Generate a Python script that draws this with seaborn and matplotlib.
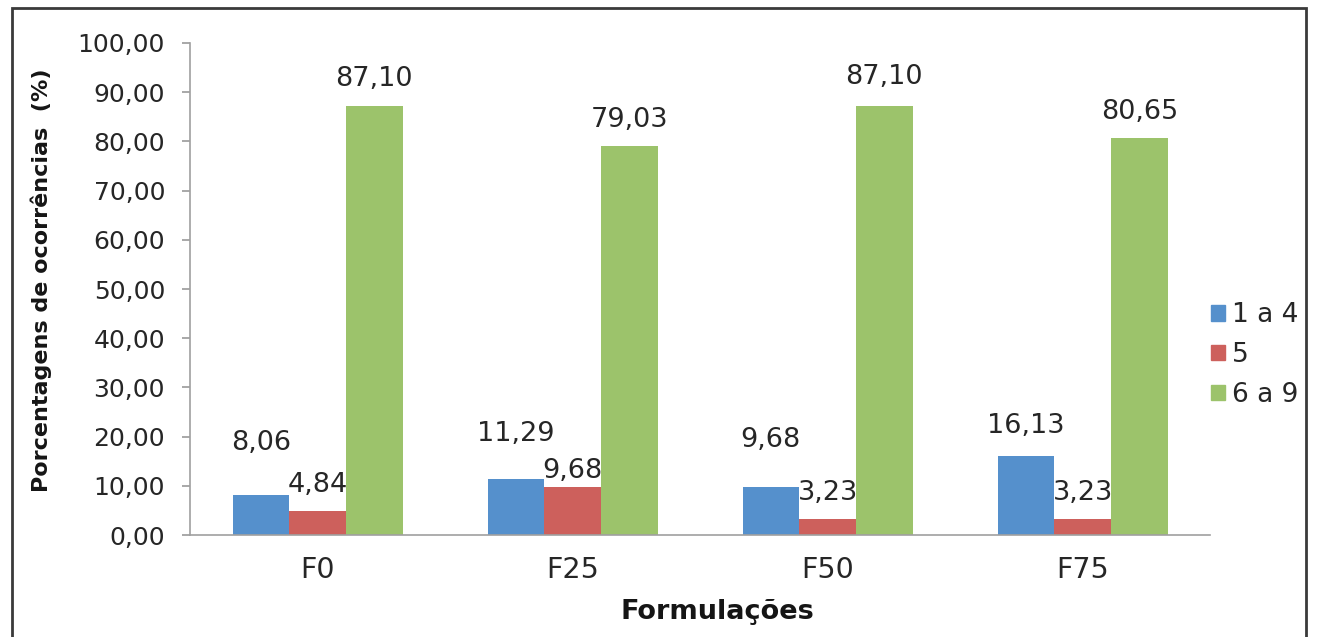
import matplotlib
matplotlib.use("Agg")
import matplotlib.pyplot as plt
from matplotlib.patches import Rectangle
import seaborn as sns
import pandas as pd

formulacoes = ["F0", "F25", "F50", "F75"]
classes = ["1 a 4", "5", "6 a 9"]
val_1a4 = [8.06, 11.29, 9.68, 16.13]
val_5 = [4.84, 9.68, 3.23, 3.23]
val_6a9 = [87.10, 79.03, 87.10, 80.65]
yticks = [0, 10, 20, 30, 40, 50, 60, 70, 80, 90, 100]

cores = ["#5590CC", "#CD605C", "#9CC36B"]
# vertical gap (points) between each bar top and its label, per class and formulation
label_gap = {
    "1 a 4": [38, 33, 34, 21],
    "5": [19, 12, 19, 19],
    "6 a 9": [20, 19, 21, 19],
}

df = pd.DataFrame({
    "Formulação": formulacoes * 3,
    "Classe": [c for c in classes for _ in formulacoes],
    "Valor": val_1a4 + val_5 + val_6a9,
})

sns.set_theme(style="white")
plt.rcParams["font.family"] = ["DejaVu Sans"]

fig = plt.figure(figsize=(13.17, 6.37), dpi=100)
ax = fig.add_axes([0.1443, 0.1601, 0.7745, 0.7724])

sns.barplot(data=df, x="Formulação", y="Valor", hue="Classe", hue_order=classes,
            order=formulacoes, palette=cores, saturation=1, width=0.667,
            linewidth=0, ax=ax, legend=False)

ax.set_ylim(0, 100)
ax.set_xlim(-0.5, 3.5)
ax.set_yticks(yticks)
ax.set_yticklabels([f"{v:.2f}".replace(".", ",") for v in yticks],
                   fontsize=18, color="#262626")
ax.tick_params(axis="y", which="major", left=True, length=6, width=1.2,
               color="#9A9A9A", pad=12)
ax.tick_params(axis="x", bottom=False, labelsize=20.5, labelcolor="#262626", pad=9)

for side in ["top", "right"]:
    ax.spines[side].set_visible(False)
for side in ["left", "bottom"]:
    ax.spines[side].set_color("#A0A0A0")
    ax.spines[side].set_linewidth(1.2)

# value labels above the bars
for cont, classe in zip(ax.containers, classes):
    for bar, gap in zip(cont, label_gap[classe]):
        h = bar.get_height()
        ax.annotate(f"{h:.2f}".replace(".", ","),
                    (bar.get_x() + bar.get_width() / 2, h),
                    xytext=(0, gap), textcoords="offset points",
                    ha="center", va="center", fontsize=19.5, color="#262626")

ax.set_xlabel("")
ax.set_ylabel("")
fig.text(0.545, 1 - 619 / 637, "Formulações", ha="center", va="baseline",
         fontsize=19.5, fontweight="bold", color="#151515")
fig.text(41 / 1317, 1 - 280 / 637, "Porcentagens de ocorrências  (%)",
         rotation=90, ha="center", va="center",
         fontsize=16, fontweight="bold", color="#151515")

handles = [Rectangle((0, 0), 1, 1, color=c) for c in cores]
fig.legend(handles, classes, loc="center left", bbox_to_anchor=(1211 / 1317, 1 - 355 / 637),
           frameon=False, fontsize=19, handlelength=0.53, handleheight=0.53,
           handletextpad=0.25, labelspacing=0.52, borderaxespad=0, borderpad=0)

# outer frame around the chart area
frame = Rectangle((12 / 1317, -0.05), (1306 - 12) / 1317, 1.05 - 8 / 637,
                  transform=fig.transFigure, fill=False, edgecolor="#3A3A3A",
                  linewidth=2, clip_on=False)
fig.patches.append(frame)

fig.savefig("out.png", dpi=100)
